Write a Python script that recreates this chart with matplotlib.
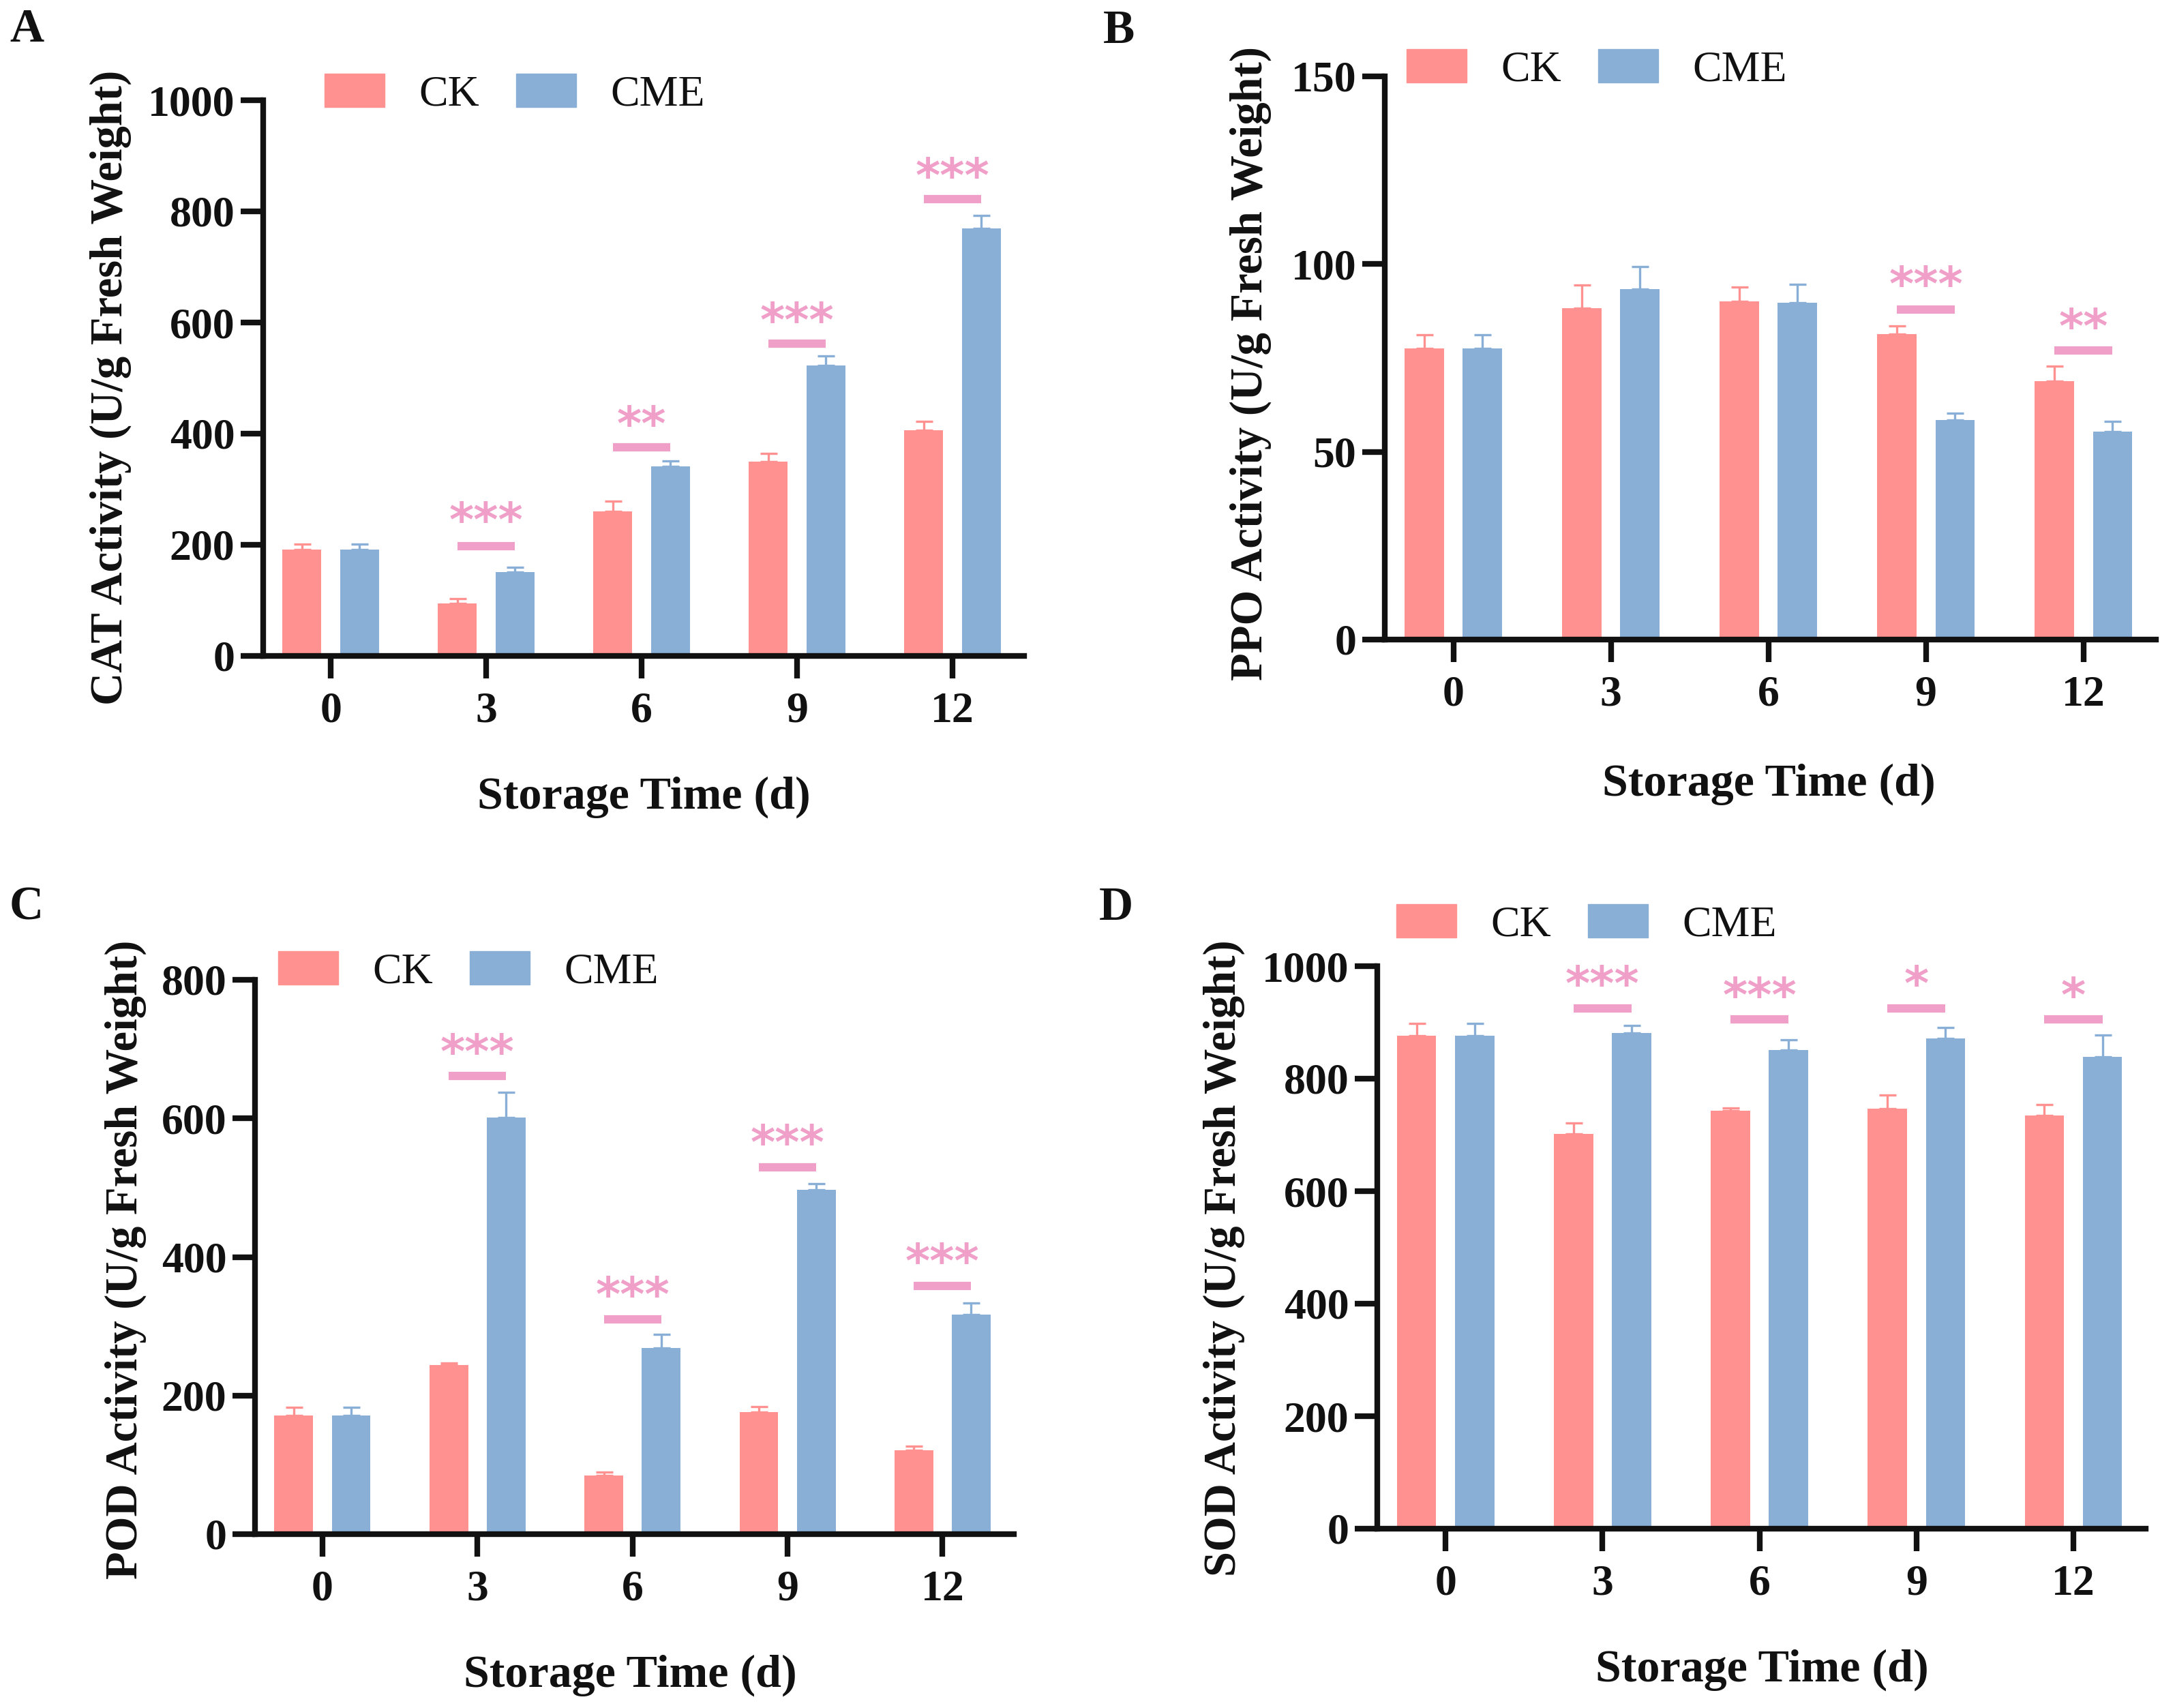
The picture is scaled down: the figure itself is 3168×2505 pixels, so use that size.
import matplotlib
matplotlib.use("Agg")
import matplotlib.pyplot as plt
import numpy as np
from matplotlib.patches import Patch
from matplotlib.font_manager import FontProperties

# ---------------- data ----------------
days = ["0", "3", "6", "9", "12"]
groups = ["CK", "CME"]

cat_ck = [191, 95, 260, 350, 406]
cat_ck_err = [10, 8, 19, 15, 16]
cat_cme = [191, 151, 341, 523, 769]
cat_cme_err = [10, 8, 10, 17, 24]
cat_sig = ["", "***", "**", "***", "***"]
cat_sig_line = [None, 198, 375, 562, 822]
cat_sig_text = [None, 255, 428, 615, 875]

ppo_ck = [77.6, 88.2, 90.0, 81.3, 68.8]
ppo_ck_err = [3.5, 6.3, 3.8, 2.2, 4.0]
ppo_cme = [77.6, 93.3, 89.7, 58.4, 55.4]
ppo_cme_err = [3.5, 6.1, 5.0, 1.9, 2.8]
ppo_sig = ["", "", "", "***", "**"]
ppo_sig_line = [None, None, None, 87.9, 77.0]
ppo_sig_text = [None, None, None, 96.2, 84.9]

pod_ck = [171, 244, 85, 176, 121]
pod_ck_err = [12, 3, 5, 8, 6]
pod_cme = [171, 601, 269, 497, 317]
pod_cme_err = [12, 37, 19, 9, 17]
pod_sig = ["", "***", "***", "***", "***"]
pod_sig_line = [None, 661, 310, 529, 358]
pod_sig_text = [None, 705, 354, 574, 402]

sod_ck = [876, 702, 743, 747, 734]
sod_ck_err = [22, 19, 5, 24, 20]
sod_cme = [876, 881, 851, 872, 839]
sod_cme_err = [22, 13, 18, 19, 39]
sod_sig = ["", "***", "***", "*", "*"]
sod_sig_line = [None, 925, 905, 925, 905]
sod_sig_text = [None, 979, 959, 979, 959]

# ---------------- style ----------------
SERIF = "Liberation Serif"
plt.rcParams["font.family"] = [SERIF, "DejaVu Serif"]

W, H = 3168, 2505
DPI = 100
CK_COLOR = "#FF9191"
CME_COLOR = "#8AAFD7"
SIG_COLOR = "#F0A0C8"
INK = "#111111"

fp_tick = FontProperties(family=SERIF, weight="bold", size=46)
fp_label = FontProperties(family=SERIF, weight="bold", size=48)
fp_xlabel = FontProperties(family=SERIF, weight="bold", size=49)
fp_leg = FontProperties(family=SERIF, weight="normal", size=46)
fp_letter = FontProperties(family=SERIF, weight="bold", size=50)
fp_star = FontProperties(family="DejaVu Sans", weight="bold", size=50)

fig = plt.figure(figsize=(W / DPI, H / DPI), dpi=DPI)


def px_axes(left, right, bottom, top):
    return fig.add_axes([left / W, 1 - bottom / H, (right - left) / W, (bottom - top) / H])


panels = [
    dict(letter="A", box=(386, 1502, 962, 147), ylim=(0, 1000), yticks=[0, 200, 400, 600, 800, 1000],
         ylabel="CAT Activity (U/g Fresh Weight)",
         ck=cat_ck, cke=cat_ck_err, cme=cat_cme, cmee=cat_cme_err,
         sig=cat_sig, sl=cat_sig_line, st=cat_sig_text,
         letter_xy=(14, 44), ylab_xy=(162, 568), xlab_xy=(944, 1169), leg_xy=(476, 138)),
    dict(letter="B", box=(2031, 3162, 938, 112), ylim=(0, 150), yticks=[0, 50, 100, 150],
         ylabel="PPO Activity (U/g Fresh Weight)",
         ck=ppo_ck, cke=ppo_ck_err, cme=ppo_cme, cmee=ppo_cme_err,
         sig=ppo_sig, sl=ppo_sig_line, st=ppo_sig_text,
         letter_xy=(1618, 46), ylab_xy=(1834, 533), xlab_xy=(2594, 1150), leg_xy=(2063, 102)),
    dict(letter="C", box=(374, 1487, 2250, 1437), ylim=(0, 800), yticks=[0, 200, 400, 600, 800],
         ylabel="POD Activity (U/g Fresh Weight)",
         ck=pod_ck, cke=pod_ck_err, cme=pod_cme, cmee=pod_cme_err,
         sig=pod_sig, sl=pod_sig_line, st=pod_sig_text,
         letter_xy=(14, 1332), ylab_xy=(184, 1847), xlab_xy=(924, 2457), leg_xy=(408, 1425)),
    dict(letter="D", box=(2020, 3147, 2242, 1417), ylim=(0, 1000), yticks=[0, 200, 400, 600, 800, 1000],
         ylabel="SOD Activity (U/g Fresh Weight)",
         ck=sod_ck, cke=sod_ck_err, cme=sod_cme, cmee=sod_cme_err,
         sig=sod_sig, sl=sod_sig_line, st=sod_sig_text,
         letter_xy=(1612, 1332), ylab_xy=(1795, 1845), xlab_xy=(2584, 2449), leg_xy=(2048, 1356)),
]

x = np.arange(len(days))
bw = 0.25
off = 0.185

for p in panels:
    l, r, b, t = p["box"]
    ax = px_axes(l, r, b, t)
    ek = dict(lw=2.4, capsize=9, capthick=2.4)
    ax.bar(x - off, p["ck"], bw, color=CK_COLOR, zorder=2,
           yerr=[np.zeros(len(x)), p["cke"]], error_kw=dict(ecolor=CK_COLOR, **ek))
    ax.bar(x + off, p["cme"], bw, color=CME_COLOR, zorder=2,
           yerr=[np.zeros(len(x)), p["cmee"]], error_kw=dict(ecolor=CME_COLOR, **ek))

    for i, s in enumerate(p["sig"]):
        if not s:
            continue
        ax.plot([x[i] - 0.185, x[i] + 0.185], [p["sl"][i], p["sl"][i]], color=SIG_COLOR,
                lw=8.8, solid_capstyle="butt", zorder=3, clip_on=False)
        ax.annotate(s, (x[i], p["st"][i]), xytext=(0, -9), textcoords="offset points",
                    ha="center", va="center", color=SIG_COLOR,
                    fontproperties=fp_star, zorder=3, annotation_clip=False)

    ax.set_xlim(-0.435, 4.46)
    ax.set_ylim(*p["ylim"])
    ax.set_yticks(p["yticks"])
    ax.set_xticks(x)
    ax.set_xticklabels(days)
    for sp in ["top", "right"]:
        ax.spines[sp].set_visible(False)
    for sp in ["left", "bottom"]:
        ax.spines[sp].set_linewidth(6)
        ax.spines[sp].set_color(INK)
    ax.tick_params(axis="both", which="major", length=24, width=6, color=INK,
                   direction="out", labelcolor=INK)
    ax.tick_params(axis="x", pad=14)
    ax.tick_params(axis="y", pad=6)
    for lab in ax.get_xticklabels() + ax.get_yticklabels():
        lab.set_fontproperties(fp_tick)

    ax.set_ylabel(p["ylabel"], fontproperties=fp_label, va="center", color=INK)
    ax.yaxis.set_label_coords((p["ylab_xy"][0] - l) / (r - l), (b - p["ylab_xy"][1]) / (b - t))
    ax.set_xlabel("Storage Time (d)", fontproperties=fp_xlabel, va="center", color=INK)
    ax.xaxis.set_label_coords((p["xlab_xy"][0] - l) / (r - l), (b - p["xlab_xy"][1]) / (b - t))

    handles = [Patch(color=CK_COLOR, label=groups[0]), Patch(color=CME_COLOR, label=groups[1])]
    lx, ly = p["leg_xy"]
    fig.legend(handles=handles, loc="center left", bbox_to_anchor=(lx / W, 1 - ly / H),
               ncol=2, frameon=False, prop=fp_leg, handlelength=1.38, handleheight=0.8,
               handletextpad=0.78, columnspacing=0.85, borderpad=0, borderaxespad=0,
               labelcolor=INK)

    fig.text(p["letter_xy"][0] / W, 1 - p["letter_xy"][1] / H, p["letter"],
             fontproperties=fp_letter, ha="left", va="center", color=INK)

fig.savefig("out.png", dpi=DPI)
